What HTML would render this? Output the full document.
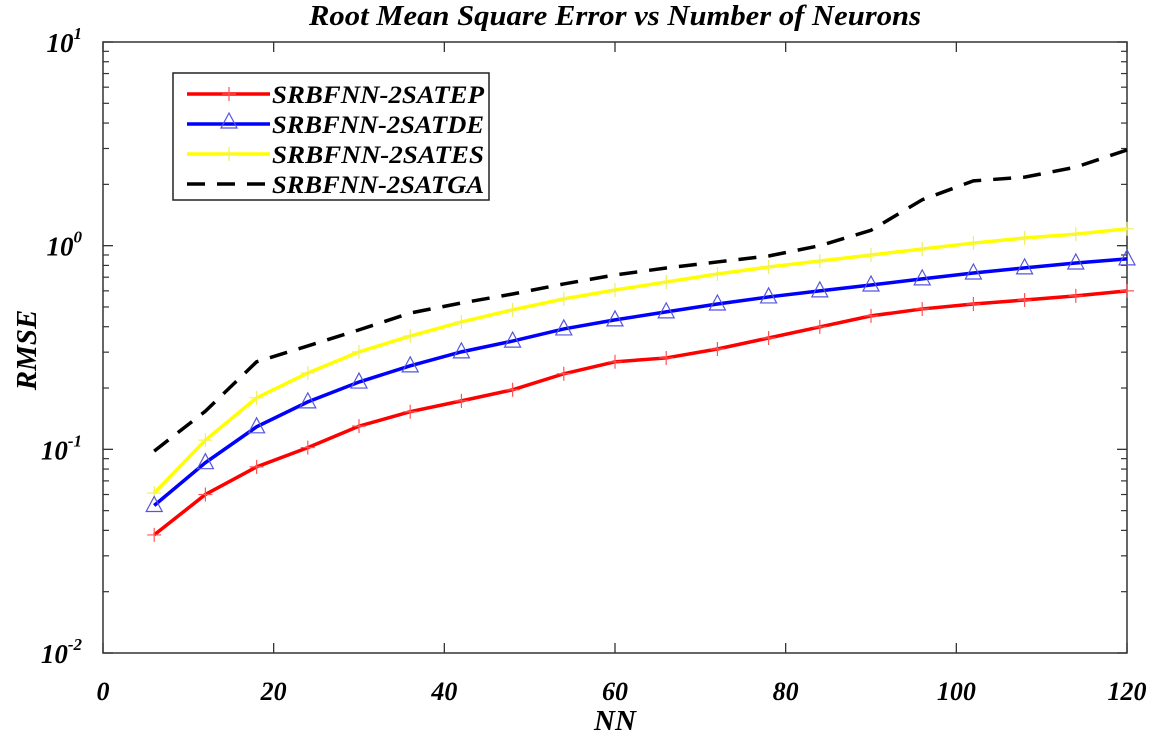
<!DOCTYPE html>
<html><head><meta charset="utf-8"><style>
body{margin:0;background:#fff;}
svg text{font-family:"Liberation Serif",serif;font-style:italic;font-weight:bold;}
</style></head><body>
<svg width="1155" height="738" viewBox="0 0 1155 738">
<g id="plot"></g>
</svg>
<script>
const nn=[6,12,18,24,30,36,42,48,54,60,66,72,78,84,90,96,102,108,114,120];
const ep=[0.038,0.060,0.082,0.102,0.130,0.153,0.173,0.196,0.235,0.269,0.281,0.311,0.352,0.399,0.452,0.489,0.517,0.541,0.567,0.600];
const de=[0.053,0.086,0.129,0.171,0.214,0.257,0.301,0.340,0.390,0.432,0.473,0.517,0.560,0.600,0.641,0.687,0.734,0.778,0.822,0.861];
const es=[0.061,0.111,0.179,0.237,0.301,0.360,0.422,0.484,0.548,0.606,0.663,0.726,0.786,0.841,0.900,0.963,1.03,1.09,1.14,1.21];
const ga=[0.098,0.154,0.269,0.322,0.386,0.467,0.523,0.579,0.649,0.718,0.777,0.832,0.890,1.0,1.19,1.68,2.08,2.17,2.43,2.95];
const xTicks=[0,20,40,60,80,100,120];
const yExps=[1,0,-1,-2];

const NS="http://www.w3.org/2000/svg";
const g=document.getElementById('plot');
const L=103,R=1127,T=42,B=653;
const xs=v=>L+(v/120)*(R-L);
const ys=v=>T+(1-Math.log10(v))/3*(B-T);
function mk(tag,attrs,parent){const e=document.createElementNS(NS,tag);for(const k in attrs)e.setAttribute(k,attrs[k]);(parent||g).appendChild(e);return e;}

let t=mk('text',{x:615,y:25,'text-anchor':'middle','font-size':29,textLength:612,lengthAdjust:'spacingAndGlyphs'});
t.textContent='Root Mean Square Error vs Number of Neurons';


let box=mk('rect',{x:L,y:T,width:R-L,height:B-T,fill:'none',stroke:'#333','stroke-width':1.5});


xTicks.forEach(v=>{
  const x=xs(v);
  mk('line',{x1:x,x2:x,y1:B,y2:B-10,stroke:'#333','stroke-width':1.3});
  mk('line',{x1:x,x2:x,y1:T,y2:T+10,stroke:'#333','stroke-width':1.3});
  const l=mk('text',{x:x,y:700,'text-anchor':'middle','font-size':26});
  l.textContent=v;
  
  
});
yExps.forEach(e=>{
  const y=ys(Math.pow(10,e));
  mk('line',{x1:L,x2:L+10,y1:y,y2:y,stroke:'#333','stroke-width':1.3});
  mk('line',{x1:R,x2:R-10,y1:y,y2:y,stroke:'#333','stroke-width':1.3});
  const l=mk('text',{x:82,y:y+10,'text-anchor':'end','font-size':27});
  l.textContent='10';
  const s=mk('tspan',{dy:-13,'font-size':17},l);s.textContent=String(e);
  
  
  if(e>-2){for(let m=2;m<=9;m++){const yy=ys(m*Math.pow(10,e-1));
    mk('line',{x1:L,x2:L+6,y1:yy,y2:yy,stroke:'#333','stroke-width':1.2});
    mk('line',{x1:R,x2:R-6,y1:yy,y2:yy,stroke:'#333','stroke-width':1.2});}}
});
let xl=mk('text',{x:615,y:730,'text-anchor':'middle','font-size':29});xl.textContent='NN';


let yl=mk('text',{x:0,y:0,'text-anchor':'middle','font-size':29,transform:'translate(36,350) rotate(-90)'});yl.textContent='RMSE';



function pts(arr){return arr.map((v,i)=>xs(nn[i])+','+ys(v)).join(' ');}
function cross(x,y,c){mk('path',{d:`M${x-7},${y}H${x+7}M${x},${y-7}V${y+7}`,stroke:c,'stroke-width':1.2});}
function tri(x,y,c){mk('path',{d:`M${x},${y-9}L${x+8},${y+6}L${x-8},${y+6}Z`,fill:'none',stroke:c,'stroke-width':1.2});}

let s1=mk('polyline',{points:pts(ga),fill:'none',stroke:'#000','stroke-width':3.5,'stroke-dasharray':'18,12'});


let s2=mk('polyline',{points:pts(es),fill:'none',stroke:'#ffff00','stroke-width':3.5});


es.forEach((v,i)=>cross(xs(nn[i]),ys(v),'#f0f060'));
let s3=mk('polyline',{points:pts(de),fill:'none',stroke:'#0000ff','stroke-width':3.5});


de.forEach((v,i)=>tri(xs(nn[i]),ys(v),'#5555dd'));
let s4=mk('polyline',{points:pts(ep),fill:'none',stroke:'#ff0000','stroke-width':3.5});


ep.forEach((v,i)=>cross(xs(nn[i]),ys(v),'#ff5555'));

let lg=mk('rect',{x:173,y:73,width:316,height:127,fill:'#fff',stroke:'#222','stroke-width':1.5});


const legNames=['SRBFNN-2SATEP','SRBFNN-2SATDE','SRBFNN-2SATES','SRBFNN-2SATGA'];
const legCols=['#ff0000','#0000ff','#ffff00','#000'];
legNames.forEach((n,i)=>{
  const y=94+i*30;
  const ln=mk('line',{x1:187,x2:270,y1:y,y2:y,stroke:legCols[i],'stroke-width':3.5});
  if(i==3)ln.setAttribute('stroke-dasharray','18,12');
  if(i==0)cross(229,y,'#ff5555');
  if(i==1)tri(229,y-2,'#5555dd');
  if(i==2)cross(229,y,'#f0f060');
  const tx=mk('text',{x:272,y:y+9,'font-size':25,textLength:212,lengthAdjust:'spacingAndGlyphs'});tx.textContent=n;
  
  
});
</script>
</body></html>
